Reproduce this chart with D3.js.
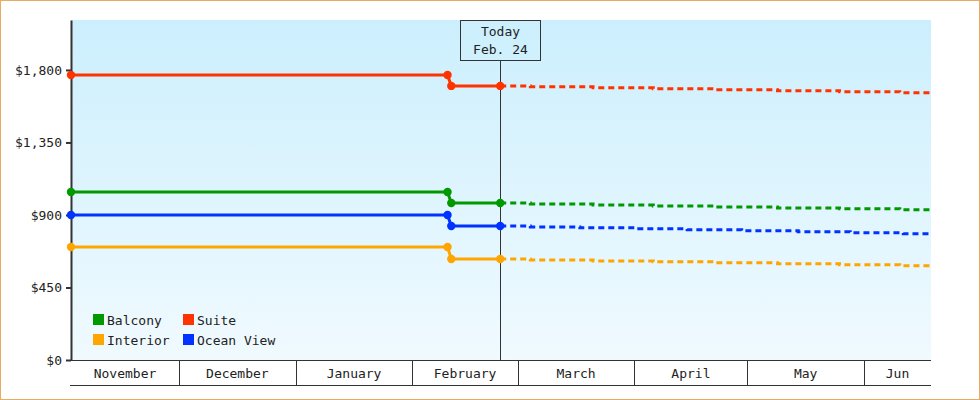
<!DOCTYPE html>
<html>
<head>
<meta charset="utf-8">
<script src="https://cdn.jsdelivr.net/npm/d3@7"></script>
<style>
  html, body { margin: 0; padding: 0; background: #fff; }
  svg text { font-family: "DejaVu Sans Mono", "Liberation Mono", monospace; font-size: 13px; fill: #222; }
</style>
</head>
<body>
<div id="chart"></div>
<script>
// categories / series
const seriesNames = ["Balcony", "Suite", "Interior", "Ocean View"];
const seriesColors = ["#009900", "#ff3300", "#ffa500", "#0033ff"];

// past prices (solid)
const pastDates = ["2014-11-02T07:00", "2015-02-10T08:00", "2015-02-11T08:00", "2015-02-24T08:00"];
const balconyPast = [1043, 1043, 974, 974];
const suitePast = [1769, 1769, 1701, 1701];
const interiorPast = [701, 701, 627, 627];
const oceanPast = [900, 900, 832, 832];

// forecast (dashed)
const forecastDates = ["2015-02-24T08:00", "2015-03-04T08:00", "2015-03-21T00:00", "2015-04-06T00:00",
  "2015-04-22T16:00", "2015-05-09T00:00", "2015-05-25T12:00", "2015-06-10T12:00", "2015-06-18T19:00"];
const oceanForecastDates = ["2015-02-24T08:00", "2015-03-04T08:00", "2015-03-17T12:00", "2015-04-01T16:00",
  "2015-04-15T00:00", "2015-04-29T12:00", "2015-05-14T12:00", "2015-05-28T08:00", "2015-06-11T10:00", "2015-06-18T19:00"];
const balconyForecast = [974, 968, 962, 956, 950, 944, 938, 932, 932];
const suiteForecast = [1701, 1695, 1689, 1683, 1677, 1671, 1665, 1659, 1659];
const interiorForecast = [627, 621, 615, 609, 603, 597, 591, 585, 585];
const oceanForecast = [832, 826, 820, 814, 808, 802, 796, 790, 784, 784];

// axes
const yTicks = [0, 450, 900, 1350, 1800];
const monthLabels = ["November", "December", "January", "February", "March", "April", "May", "Jun"];
const todayDate = "2015-02-24T08:00";
const todayLabel = ["Today", "Feb. 24"];

const W = 980, H = 400;
const margin = { top: 20, right: 49, bottom: 40, left: 71 };
const innerW = W - margin.left - margin.right;
const innerH = H - margin.top - margin.bottom;

const parse = (s) => new Date(s);

const seriesData = [
  { name: "Balcony", past: balconyPast, fDates: forecastDates, forecast: balconyForecast },
  { name: "Suite", past: suitePast, fDates: forecastDates, forecast: suiteForecast },
  { name: "Interior", past: interiorPast, fDates: forecastDates, forecast: interiorForecast },
  { name: "Ocean View", past: oceanPast, fDates: oceanForecastDates, forecast: oceanForecast },
];

const svg = d3.select("#chart").append("svg")
  .attr("width", W).attr("height", H);

// outer border
svg.append("rect")
  .attr("x", 0.5).attr("y", 0.5).attr("width", W - 1).attr("height", H - 1)
  .attr("fill", "#fff").attr("stroke", "#e9aa66");

const defs = svg.append("defs");
const grad = defs.append("linearGradient").attr("id", "bg").attr("x1", 0).attr("y1", 0).attr("x2", 0).attr("y2", 1);
grad.append("stop").attr("offset", "0%").attr("stop-color", "#cceffd");
grad.append("stop").attr("offset", "100%").attr("stop-color", "#f0faff");

const g = svg.append("g").attr("transform", `translate(${margin.left},${margin.top})`);

const x = d3.scaleTime()
  .domain([parse("2014-11-02T07:00"), parse("2015-06-18T19:00")])
  .range([0, innerW]);
const y = d3.scaleLinear().domain([0, 2110]).range([innerH, 0]);

g.append("rect").attr("width", innerW).attr("height", innerH).attr("fill", "url(#bg)");

// y axis
const yAxis = g.append("g")
  .call(d3.axisLeft(y).tickValues(yTicks).tickFormat(d3.format("$,.0f")).tickSize(5).tickSizeOuter(0).tickPadding(4));
yAxis.select(".domain").attr("stroke", "#333").attr("stroke-width", 2);
yAxis.selectAll(".tick line").attr("stroke", "#333").attr("stroke-width", 2);
yAxis.selectAll("text").attr("fill", "#222");
yAxis.attr("font-family", null).attr("font-size", null);

// month band axis
const [d0, d1] = x.domain();
const bounds = [d0, ...d3.timeMonth.range(d3.timeMonth.ceil(d0), d1), d1];
const xg = g.append("g").attr("transform", `translate(0,${innerH})`);
xg.append("line").attr("x1", -1).attr("x2", innerW).attr("y1", 0.5).attr("y2", 0.5).attr("stroke", "#333");
xg.append("line").attr("x1", -1).attr("x2", innerW).attr("y1", 25.5).attr("y2", 25.5).attr("stroke", "#333");
bounds.slice(1, -1).forEach((b) => {
  const px = Math.round(x(b)) + 0.5;
  xg.append("line").attr("x1", px).attr("x2", px).attr("y1", 0).attr("y2", 25).attr("stroke", "#333");
});
bounds.slice(0, -1).forEach((b, i) => {
  xg.append("text")
    .attr("x", (x(b) + x(bounds[i + 1])) / 2)
    .attr("y", 18)
    .attr("text-anchor", "middle")
    .text(monthLabels[i]);
});

// today marker
const tx = Math.round(x(parse(todayDate))) + 0.5;
g.append("line").attr("x1", tx).attr("x2", tx).attr("y1", 40).attr("y2", innerH).attr("stroke", "#333");
g.append("rect").attr("x", tx - 40).attr("y", 0.5).attr("width", 80).attr("height", 40)
  .attr("fill", "none").attr("stroke", "#333");
todayLabel.forEach((t, i) => {
  g.append("text").attr("x", tx).attr("y", 16 + i * 18).attr("text-anchor", "middle").text(t);
});

// lines
const pastLine = d3.line().x((d) => x(d.date)).y((d) => y(d.value));
const fLine = d3.line().curve(d3.curveStepAfter).x((d) => x(d.date)).y((d) => y(d.value));

seriesData.forEach((s, i) => {
  const color = seriesColors[i];
  const past = pastDates.map((d, j) => ({ date: parse(d), value: s.past[j] }));
  const fc = s.fDates.map((d, j) => ({ date: parse(d), value: s.forecast[j] }));

  g.append("path").datum(fc).attr("d", fLine)
    .attr("fill", "none").attr("stroke", color).attr("stroke-width", 3)
    .attr("stroke-dasharray", "6,4").attr("stroke-dashoffset", -10);

  g.append("path").datum(past).attr("d", pastLine)
    .attr("fill", "none").attr("stroke", color).attr("stroke-width", 3);

  g.selectAll(null).data(past).join("circle")
    .attr("cx", (d) => x(d.date)).attr("cy", (d) => y(d.value)).attr("r", 4.2)
    .attr("fill", color);
});

// legend
const legend = g.append("g").attr("transform", "translate(22,294)");
seriesNames.forEach((name, i) => {
  const col = i % 2, row = Math.floor(i / 2);
  const lg = legend.append("g").attr("transform", `translate(${col * 90},${row * 20})`);
  lg.append("rect").attr("width", 11).attr("height", 11).attr("fill", seriesColors[i]);
  lg.append("text").attr("x", 14).attr("y", 10.5).text(name);
});
</script>
</body>
</html>
